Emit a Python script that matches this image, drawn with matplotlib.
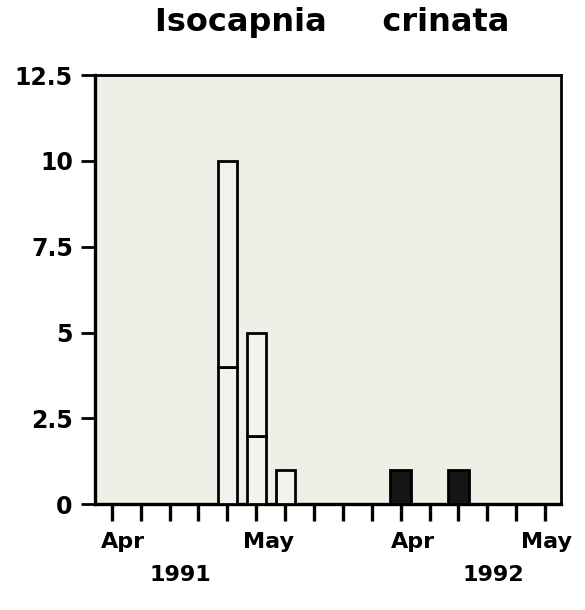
import matplotlib
matplotlib.use("Agg")
import matplotlib.pyplot as plt
import numpy as np

plt.rcParams['font.family'] = ['DejaVu Sans']
plt.rcParams['font.weight'] = 'bold'

# sampling dates (16 ticks across Apr-May 1991 and Apr-May 1992)
sample_index = list(range(16))
lower_1991 = [0, 0, 0, 0, 4, 2, 1, 0, 0, 0, 0, 0, 0, 0, 0, 0]
upper_1991 = [0, 0, 0, 0, 6, 3, 0, 0, 0, 0, 0, 0, 0, 0, 0, 0]
counts_1992 = [0, 0, 0, 0, 0, 0, 0, 0, 0, 0, 1, 0, 1, 0, 0, 0]

month_labels = ["Apr", "May", "Apr", "May"]
month_pos = [0.39, 5.44, 10.42, 15.06]
year_labels = ["1991", "1992"]
year_pos = [2.36, 13.2]
y_ticks = [0, 2.5, 5, 7.5, 10, 12.5]
y_ticklabels = ["0", "2.5", "5", "7.5", "10", "12.5"]
title = "Isocapnia     crinata"

fig = plt.figure(figsize=(5.85, 6.10), dpi=100)
fig.patch.set_facecolor("white")
ax = fig.add_axes([0.1624, 0.1733, 0.7966, 0.7037])
ax.set_facecolor("#efeee7")

x = np.array(sample_index)
w = 0.66
lw = 2.0
b1 = ax.bar(x, lower_1991, width=w, facecolor="#f3f2ec", edgecolor="black", linewidth=lw, zorder=3)
b2 = ax.bar(x, upper_1991, bottom=lower_1991, width=w, facecolor="#f3f2ec", edgecolor="black",
            linewidth=lw, zorder=3)
b3 = ax.bar(x, counts_1992, width=0.72, facecolor="#151515", edgecolor="black", linewidth=lw, zorder=3)
for group in (b1, b2, b3):
    for b in group:
        if b.get_height() == 0:
            b.set_visible(False)

ax.set_xlim(-0.58, 15.55)
ax.set_ylim(0, 12.5)
ax.set_xticks(sample_index)
ax.set_xticklabels([""] * len(sample_index))
ax.set_yticks(y_ticks)
ax.set_yticklabels(y_ticklabels, fontsize=17, fontweight="bold")
ax.tick_params(axis="x", direction="out", length=12, width=2.4, color="black")
ax.tick_params(axis="y", direction="out", length=10, width=2.0, color="black", pad=6)
for s in ax.spines.values():
    s.set_linewidth(2.0)
    s.set_color("black")
ax.spines["left"].set_linewidth(2.4)
ax.spines["bottom"].set_linewidth(2.4)

tr = ax.get_xaxis_transform()
for lab, p in zip(month_labels, month_pos):
    ax.text(p, -0.088, lab, transform=tr, ha="center", va="center", fontsize=16,
            fontweight="bold", clip_on=False)
for lab, p in zip(year_labels, year_pos):
    ax.text(p, -0.165, lab, transform=tr, ha="center", va="center", fontsize=16,
            fontweight="bold", clip_on=False)

fig.text(0.567, 0.963, title, ha="center", va="center", fontsize=23, fontweight="bold")

fig.savefig("out.png", dpi=100, facecolor="white")
